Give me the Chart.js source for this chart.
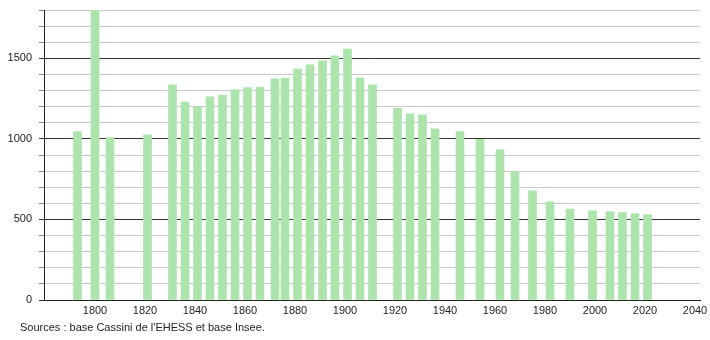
<!DOCTYPE html>
<html>
<head>
<meta charset="utf-8">
<script src="https://cdn.jsdelivr.net/npm/chart.js@4/dist/chart.umd.min.js"></script>
<style>
body{margin:0;background:#fff}
#wrap{position:relative;width:710px;height:340px}
#src{position:absolute;left:20px;top:321px;font:11px "Liberation Sans",Arial,sans-serif;color:#222}
</style>
</head>
<body>
<div id="wrap">
<canvas id="graph" width="710" height="340"></canvas>
<div id="src">Sources : base Cassini de l'EHESS et base Insee.</div>
</div>
<script>
// census years and population
let years=[1793,1800,1806,1821,1831,1836,1841,1846,1851,1856,1861,1866,1872,1876,1881,1886,1891,1896,1901,1906,1911,1921,1926,1931,1936,1946,1954,1962,1968,1975,1982,1990,1999,2006,2011,2016,2021]
let population=[1045,1800,1008,1025,1335,1228,1197,1261,1271,1304,1319,1321,1373,1377,1433,1460,1484,1516,1557,1379,1335,1190,1155,1149,1062,1045,998,932,797,677,609,565,553,549,542,536,530]

let xTicks=[1800,1820,1840,1860,1880,1900,1920,1940,1960,1980,2000,2020,2040]
let yTicks=[0,100,200,300,400,500,600,700,800,900,1000,1100,1200,1300,1400,1500,1600,1700,1800]
let yLabels=[0,500,1000,1500]

let ctx=document.getElementById("graph").getContext("2d")

let chart=new Chart(ctx,{
type:"bar",
data:{
datasets:[{
data:years.map((y,i)=>({x:y,y:population[i]})),
backgroundColor:"rgb(172,228,172)",
borderWidth:0,
barThickness:8
}]
},
options:{
responsive:false,
animation:false,
events:[],
layout:{padding:{top:10,right:10,left:0,bottom:0}},
plugins:{legend:{display:false},tooltip:{enabled:false}},
scales:{
x:{
type:"linear",
offset:false,
min:1779.6,
max:2042,
afterBuildTicks:s=>{s.ticks=xTicks.map(v=>({value:v}))},
afterFit:s=>{s.height=40;s.paddingLeft=0;s.paddingRight=0},
grid:{display:false,drawTicks:false},
border:{color:"#222",width:1},
ticks:{color:"#222",padding:4,autoSkip:false,font:{family:"Liberation Sans",size:11},maxRotation:0,callback:v=>String(v)}
},
y:{
min:0,
max:1800,
afterBuildTicks:s=>{s.ticks=yTicks.map(v=>({value:v}))},
afterFit:s=>{s.width=44;s.paddingTop=0;s.paddingBottom=0},
grid:{
color:c=>yLabels.includes(c.tick.value)?"#333":"#c8c8c8",
tickColor:c=>yLabels.includes(c.tick.value)?"#333":"#888",
tickLength:5,
lineWidth:1
},
border:{color:"#222",width:1},
ticks:{
color:"#222",
padding:7,
autoSkip:false,
font:{family:"Liberation Sans",size:11},
callback:v=>yLabels.includes(v)?String(v):""
}
}
}
}
})
</script>
</body>
</html>
